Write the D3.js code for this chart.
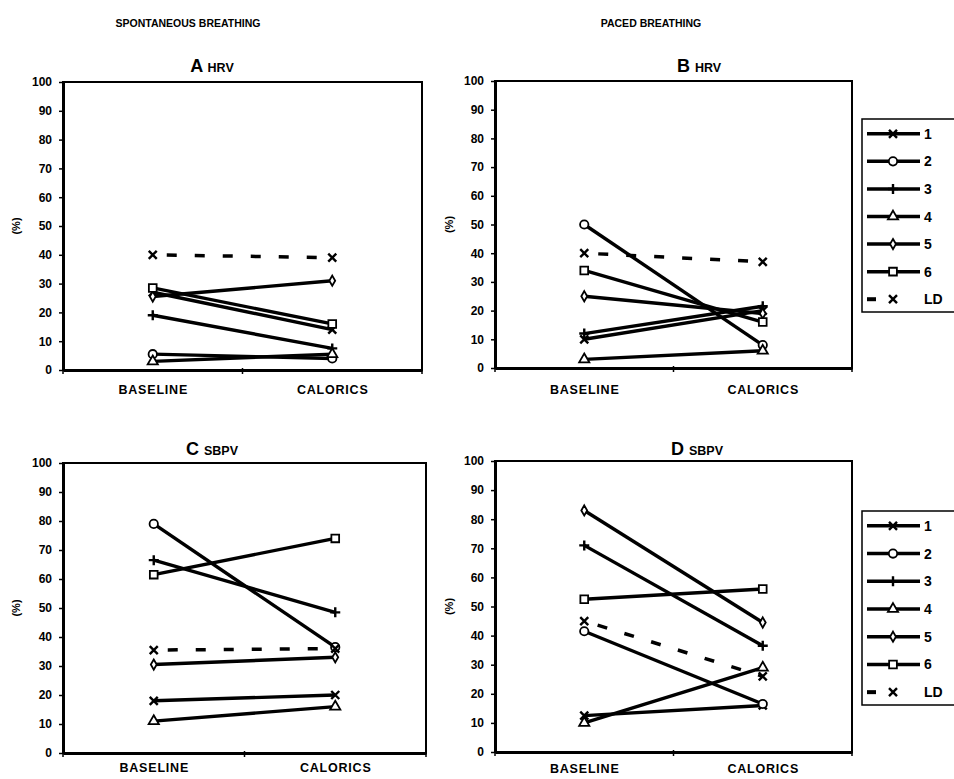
<!DOCTYPE html>
<html>
<head>
<meta charset="utf-8">
<script src="https://cdn.jsdelivr.net/npm/d3@7"></script>
<style>
  html, body { margin: 0; padding: 0; background: #fff; }
  svg { display: block; font-family: "Liberation Sans", Arial, sans-serif; }
</style>
</head>
<body>
<svg id="chart" width="954" height="779"></svg>
<script>
// ---------------- DATA ----------------
const categories = ["BASELINE", "CALORICS"];
const seriesNames = ["1", "2", "3", "4", "5", "6", "LD"];
const yTicks = [0, 10, 20, 30, 40, 50, 60, 70, 80, 90, 100];
const columnHeaders = ["SPONTANEOUS BREATHING", "PACED BREATHING"];

// values per series (1..6, LD): [BASELINE, CALORICS]
const hrvSpontaneous = [[27, 14], [5.5, 4], [19, 7.5], [3, 5.5], [25.5, 31], [28.5, 16], [40, 39]];
const hrvPaced       = [[10, 20], [50, 8], [12, 21.5], [3, 6], [25, 19], [34, 16], [40, 37]];
const sbpvSpontaneous = [[18, 20], [79, 36.5], [66.5, 48.5], [11, 16], [30.5, 33], [61.5, 74], [35.5, 36]];
const sbpvPaced       = [[12.5, 16], [41.5, 16.5], [71, 36.5], [10, 29], [83, 44.5], [52.5, 56], [45, 26]];

// ---------------- LAYOUT ----------------
const panels = [
  { letter: "A", sub: "HRV",  data: hrvSpontaneous, left: 63,  top: 82,  right: 422, bottom: 370, titleX: 212, titleY: 72,  ylabX: 16,  xPad: 15, legend: false },
  { letter: "B", sub: "HRV",  data: hrvPaced,       left: 495, top: 81,  right: 852, bottom: 368, titleX: 699, titleY: 72,  ylabX: 449, xPad: 17, legend: true, legTop: 119, legBottom: 312 },
  { letter: "C", sub: "SBPV", data: sbpvSpontaneous, left: 63, top: 463, right: 426, bottom: 753, titleX: 212, titleY: 455, ylabX: 16,  xPad: 10, legend: false },
  { letter: "D", sub: "SBPV", data: sbpvPaced,      left: 495, top: 461, right: 852, bottom: 752, titleX: 697, titleY: 455, ylabX: 449, xPad: 12, legend: true, legTop: 511, legBottom: 705 }
];

const svg = d3.select("#chart");

// column headers
svg.selectAll("text.header").data(columnHeaders).join("text")
  .attr("class", "header")
  .attr("x", (d, i) => i === 0 ? 188 : 651)
  .attr("y", 27)
  .attr("text-anchor", "middle")
  .attr("font-size", 10.5)
  .attr("font-weight", "bold")
  .text(d => d);

// marker drawing
const sym = (type, size) => d3.symbol().type(type).size(size)();
function markerPath(i) {
  switch (i) {
    case 0: return "M-4,-4L4,4M-4,4L4,-4";             // x
    case 1: return sym(d3.symbolCircle, 55);            // circle
    case 2: return "M-5,0L5,0M0,-5L0,5";                // +
    case 3: return sym(d3.symbolTriangle, 45);          // triangle
    case 4: return sym(d3.symbolDiamond, 30);           // diamond
    case 5: return sym(d3.symbolSquare, 60);            // square
    case 6: return "M-4,-4L4,4M-4,4L4,-4";              // LD x
  }
}
function drawMarker(g, i, x, y) {
  const open = (i === 1 || i === 3 || i === 4 || i === 5);
  g.append("path")
    .attr("d", markerPath(i))
    .attr("transform", `translate(${x},${y})`)
    .attr("fill", open ? "#fff" : "none")
    .attr("stroke", "#000")
    .attr("stroke-width", open ? 1.8 : 2.4);
}

panels.forEach(p => {
  const g = svg.append("g");
  const x = d3.scalePoint().domain(categories).range([p.left, p.right]).padding(0.5);
  const y = d3.scaleLinear().domain([0, 100]).range([p.bottom, p.top]);

  // plot area border
  g.append("rect")
    .attr("x", p.left).attr("y", p.top)
    .attr("width", p.right - p.left).attr("height", p.bottom - p.top)
    .attr("fill", "none").attr("stroke", "#000").attr("stroke-width", 2);

  // y axis
  const ya = g.append("g")
    .attr("transform", `translate(${p.left},0)`)
    .call(d3.axisLeft(y).tickValues(yTicks).tickSize(4).tickPadding(7).tickSizeOuter(0));
  ya.select(".domain").attr("stroke-width", 3);
  ya.selectAll(".tick line").attr("x1", 2).attr("x2", -4).attr("stroke-width", 1.5);
  ya.selectAll(".tick text").attr("font-size", 12).attr("font-weight", "bold")
    .attr("font-family", "'Liberation Sans', Arial, sans-serif").attr("fill", "#000");

  // x axis
  const xa = g.append("g")
    .attr("transform", `translate(0,${p.bottom})`)
    .call(d3.axisBottom(x).tickSize(0).tickPadding(p.xPad).tickSizeOuter(0));
  xa.select(".domain").attr("stroke-width", 3);
  xa.selectAll(".tick text").attr("font-size", 12.5).attr("font-weight", "bold")
    .attr("letter-spacing", "0.8px")
    .attr("font-family", "'Liberation Sans', Arial, sans-serif").attr("fill", "#000");
  // category boundary tick marks
  const bounds = [p.left, (p.left + p.right) / 2, p.right];
  g.selectAll("line.xt").data(bounds).join("line")
    .attr("x1", d => d).attr("x2", d => d)
    .attr("y1", p.bottom - 2).attr("y2", p.bottom + 4)
    .attr("stroke", "#000").attr("stroke-width", 1.5);

  // y label
  g.append("text")
    .attr("transform", `translate(${p.ylabX + 4},${(p.top + p.bottom) / 2}) rotate(-90)`)
    .attr("text-anchor", "middle")
    .attr("font-size", 11).attr("font-weight", "bold")
    .text("(%)");

  // title
  const t = g.append("text")
    .attr("x", p.titleX).attr("y", p.titleY)
    .attr("text-anchor", "middle").attr("font-weight", "bold");
  t.append("tspan").attr("font-size", 18).text(p.letter + " ");
  t.append("tspan").attr("font-size", 12.5).text(p.sub);

  // series lines
  const line = d3.line().x((d, i) => x(categories[i])).y(d => y(d));
  p.data.forEach((vals, si) => {
    const isLD = si === 6;
    g.append("path")
      .attr("d", line(vals))
      .attr("fill", "none")
      .attr("stroke", "#000")
      .attr("stroke-width", isLD ? 3.5 : 3.4)
      .attr("stroke-dasharray", isLD ? "0,14,10,4" : null);
  });
  p.data.forEach((vals, si) => {
    vals.forEach((v, ci) => drawMarker(g, si, x(categories[ci]), y(v)));
  });

  // legend
  if (p.legend) {
    const lg = g.append("g");
    lg.append("rect")
      .attr("x", 862).attr("y", p.legTop)
      .attr("width", 100).attr("height", p.legBottom - p.legTop)
      .attr("fill", "#fff").attr("stroke", "#000").attr("stroke-width", 1.5);
    const step = (p.legBottom - p.legTop) / seriesNames.length;
    seriesNames.forEach((name, si) => {
      const cy = p.legTop + step * (si + 0.5) + 1;
      const isLD = si === 6;
      if (isLD) {
        lg.append("line").attr("x1", 867).attr("x2", 876).attr("y1", cy).attr("y2", cy)
          .attr("stroke", "#000").attr("stroke-width", 4);
        drawMarker(lg, si, 893, cy);
      } else {
        lg.append("line").attr("x1", 867).attr("x2", 920).attr("y1", cy).attr("y2", cy)
          .attr("stroke", "#000").attr("stroke-width", 3.5);
        drawMarker(lg, si, 893, cy);
      }
      lg.append("text")
        .attr("x", 924).attr("y", cy + 5)
        .attr("font-size", 14).attr("font-weight", "bold")
        .text(name);
    });
  }
});
</script>
</body>
</html>
